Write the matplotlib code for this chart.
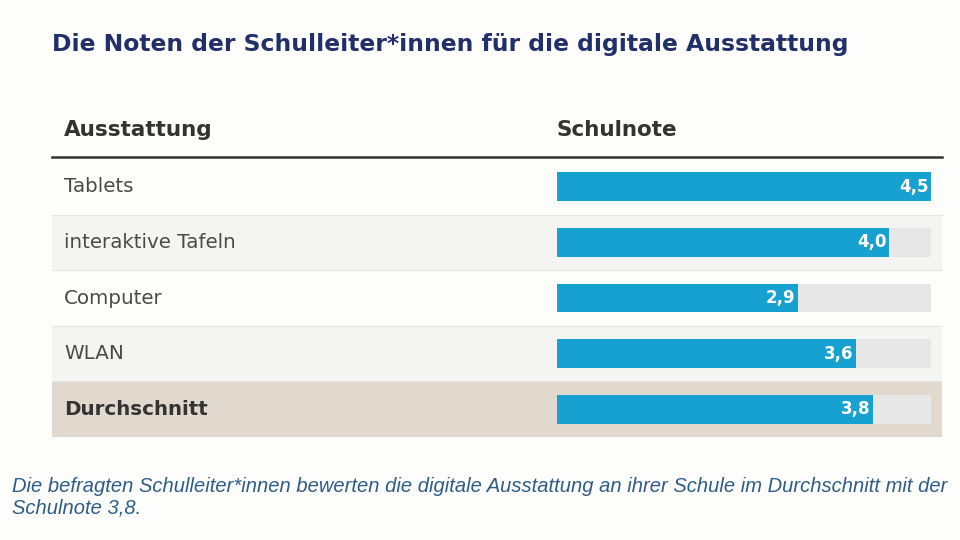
import matplotlib.pyplot as plt
from matplotlib.patches import Rectangle

title = "Die Noten der Schulleiter*innen für die digitale Ausstattung"
caption = ("Die befragten Schulleiter*innen bewerten die digitale Ausstattung an ihrer Schule im Durchschnitt mit der\n"
           "Schulnote 3,8.")
categories = ["Tablets", "interaktive Tafeln", "Computer", "WLAN", "Durchschnitt"]
grades = [4.5, 4.0, 2.9, 3.6, 3.8]
scale_max = 4.5

bar_color = "#17a1d1"
track_color = "#e7e7e7"
row_colors = ["#fdfdfb", "#f4f4f2", "#fdfdfb", "#f4f4f2", "#e1d9ce"]

fig = plt.figure(figsize=(9.6, 5.4), dpi=100)
fig.patch.set_facecolor("#fdfdfb")

# background layer in pixel coordinates
bg = fig.add_axes([0, 0, 1, 1])
bg.set_xlim(0, 960)
bg.set_ylim(540, 0)
bg.axis("off")

row_top = 159
row_h = 55.6
for i, cat in enumerate(categories):
    y0 = row_top + i * row_h
    bg.add_patch(Rectangle((52, y0), 890, row_h, facecolor=row_colors[i],
                           edgecolor="none", zorder=0))
    if i > 0:
        bg.plot([52, 942], [y0, y0], color="#e6e6e6", lw=0.8, zorder=1)
    last = i == len(categories) - 1
    bg.text(64, y0 + row_h / 2, cat, fontsize=14.3, va="center", ha="left",
            color="#333333" if last else "#4a4a4a",
            fontweight="bold" if last else "normal")

bg.text(52, 44, title, fontsize=16.9, fontweight="bold", color="#22306a",
        va="center", ha="left")
bg.text(64, 130, "Ausstattung", fontsize=15.5, fontweight="bold",
        color="#333333", va="center", ha="left")
bg.text(557, 130, "Schulnote", fontsize=15.5, fontweight="bold",
        color="#333333", va="center", ha="left")
bg.plot([52, 942], [157, 157], color="#333333", lw=1.8)

bg.text(12, 497, caption, fontsize=14.5, style="italic", color="#2e5c86",
        family="Liberation Sans", va="center", ha="left", linespacing=1.2)

# bar layer
bot = 1 - (row_top + row_h * len(categories)) / 540
top = 1 - row_top / 540
ax = fig.add_axes([557 / 960, bot, (931 - 557) / 960, top - bot])
ax.set_xlim(0, scale_max)
ax.set_ylim(len(categories) - 0.5, -0.5)
ax.axis("off")
ax.patch.set_alpha(0)

ypos = list(range(len(categories)))
ax.barh(ypos, [scale_max] * len(categories), height=0.52, color=track_color)
ax.barh(ypos, grades, height=0.52, color=bar_color)
for y, g in zip(ypos, grades):
    ax.text(g - 0.03, y, f"{g:.1f}".replace(".", ","), color="white",
            fontsize=12, fontweight="bold", va="center", ha="right")

fig.savefig("out.png", dpi=100, facecolor=fig.get_facecolor())
